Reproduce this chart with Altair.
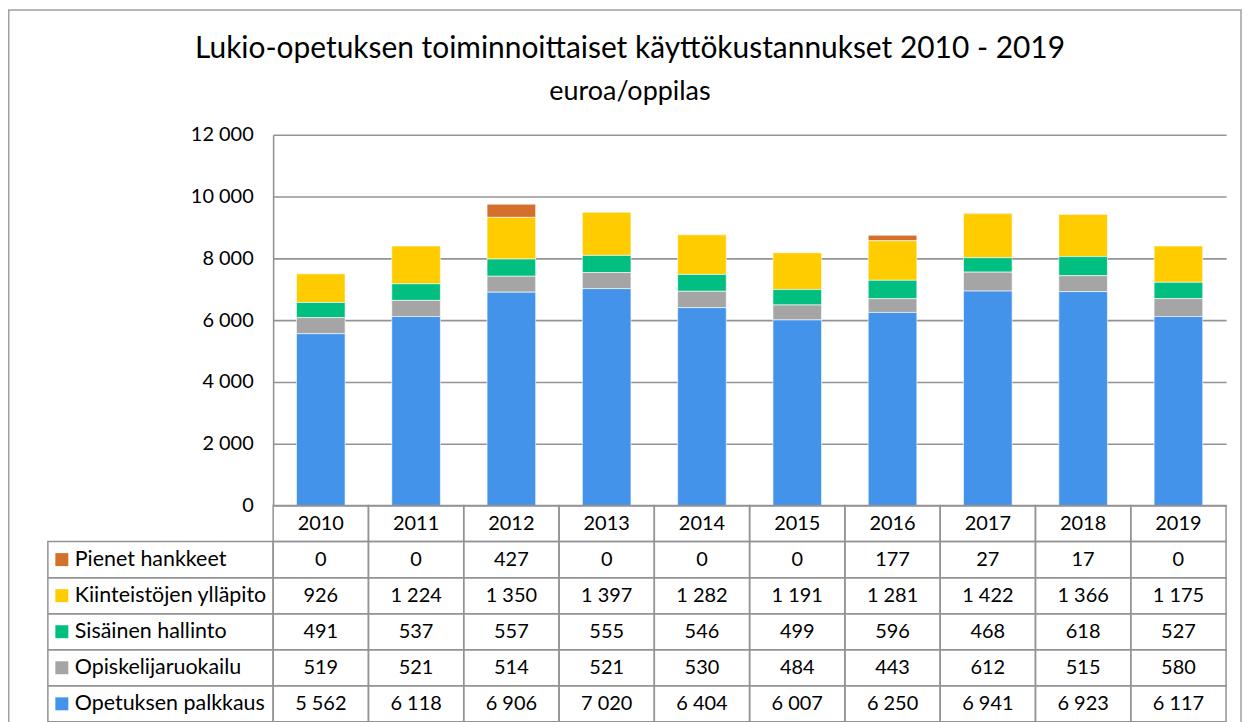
import altair as alt
import pandas as pd

# ---- data ----
years = ["2010", "2011", "2012", "2013", "2014", "2015", "2016", "2017", "2018", "2019"]
series = ["Pienet hankkeet", "Kiinteistöjen ylläpito", "Sisäinen hallinto",
          "Opiskelijaruokailu", "Opetuksen palkkaus"]
colors = ["#D3702C", "#FFCC00", "#00BF80", "#A5A5A5", "#4493EB"]
pienet = [0, 0, 427, 0, 0, 0, 177, 27, 17, 0]
kiinteistot = [926, 1224, 1350, 1397, 1282, 1191, 1281, 1422, 1366, 1175]
sisainen = [491, 537, 557, 555, 546, 499, 596, 468, 618, 527]
ruokailu = [519, 521, 514, 521, 530, 484, 443, 612, 515, 580]
palkkaus = [5562, 6118, 6906, 7020, 6404, 6007, 6250, 6941, 6923, 6117]
title_lines = ["Lukio-opetuksen toiminnoittaiset käyttökustannukset 2010 - 2019",
               "euroa/oppilas"]
y_ticks = [0, 2000, 4000, 6000, 8000, 10000, 12000]

FONT = "Lato"
GRID = "#939393"
BORDER = "#a0a0a0"
FS = 20

values_by_series = [pienet, kiinteistot, sisainen, ruokailu, palkkaus]


def fmt(v):
    return f"{v:,}".replace(",", " ")


recs = []
for si, (name, vals) in enumerate(zip(series, values_by_series)):
    for yr, v in zip(years, vals):
        recs.append({"year": yr, "series": name, "value": v, "label": fmt(v),
                     "stack": len(series) - 1 - si})
df = pd.DataFrame(recs)

color_scale = alt.Scale(domain=series, range=colors)
rows_domain = ["hdr"] + series

# ---- bar chart ----
bars = alt.Chart(df).transform_filter("datum.value > 0").mark_bar(
    stroke="white", strokeWidth=1, strokeOpacity=0.6
).encode(
    x=alt.X("year:N", scale=alt.Scale(domain=years, paddingInner=0.49, paddingOuter=0.245), axis=None),
    y=alt.Y("value:Q", stack="zero",
            scale=alt.Scale(domain=[0, 12000], nice=False),
            axis=alt.Axis(values=y_ticks, title=None, grid=True, gridColor=GRID, gridWidth=1.6,
                          domain=True, domainColor=GRID, domainWidth=1.6, ticks=False,
                          labelFont=FONT, labelFontSize=FS, labelColor="black", labelPadding=20,
                          labelExpr="replace(format(datum.value, ','), ',', ' ')")),
    color=alt.Color("series:N", scale=color_scale, legend=None),
    order=alt.Order("stack:Q", sort="ascending"),
)

t1 = alt.Chart(pd.DataFrame({"t": [title_lines[0]]})).mark_text(
    font=FONT, fontSize=30, color="black", align="center", baseline="alphabetic"
).encode(text="t:N", x=alt.value(358), y=alt.value(-77))
t2 = alt.Chart(pd.DataFrame({"t": [title_lines[1]]})).mark_text(
    font=FONT, fontSize=27, color="black", align="center", baseline="alphabetic"
).encode(text="t:N", x=alt.value(358), y=alt.value(-35))

bar_panel = alt.layer(bars, t1, t2).properties(width=956, height=372)

# ---- spacer with outer border ----
spacer = alt.Chart(pd.DataFrame({"a": [0]})).mark_rect(
    fillOpacity=0, stroke=BORDER, strokeWidth=1.5
).encode(
    x=alt.value(-39.25), x2=alt.value(1197), y=alt.value(-125.25), y2=alt.value(590)
).properties(width=226, height=372)

# ---- legend column of table ----
leg_df = pd.DataFrame({"series": series})
row_y = alt.Y("series:N", scale=alt.Scale(domain=rows_domain, paddingInner=0, paddingOuter=0), axis=None)
leg_cells = alt.Chart(leg_df).mark_rect(fillOpacity=0, stroke=GRID, strokeWidth=1.5).encode(
    y=row_y, x=alt.value(0), x2=alt.value(226))
leg_sw = alt.Chart(leg_df).mark_square(size=169, opacity=1).encode(
    y=row_y, x=alt.value(14), color=alt.Color("series:N", scale=color_scale, legend=None))
leg_txt = alt.Chart(leg_df).mark_text(align="left", font=FONT, fontSize=21.5, color="black").encode(
    y=row_y, x=alt.value(27), text="series:N")
legend_panel = alt.layer(leg_cells, leg_sw, leg_txt).properties(width=226, height=217)

# ---- values grid of table ----
cell_recs = [{"year": yr, "row": "hdr", "label": yr} for yr in years]
for name, vals in zip(series, values_by_series):
    for yr, v in zip(years, vals):
        cell_recs.append({"year": yr, "row": name, "label": fmt(v)})
cells_df = pd.DataFrame(cell_recs)
cx = alt.X("year:N", scale=alt.Scale(domain=years, paddingInner=0, paddingOuter=0), axis=None)
cy = alt.Y("row:N", scale=alt.Scale(domain=rows_domain, paddingInner=0, paddingOuter=0), axis=None)
val_cells = alt.Chart(cells_df).mark_rect(fillOpacity=0, stroke=GRID, strokeWidth=1.5).encode(x=cx, y=cy)
val_txt = alt.Chart(cells_df).mark_text(font=FONT, fontSize=FS, color="black").encode(
    x=cx, y=cy, text="label:N")
values_panel = alt.layer(val_cells, val_txt).properties(width=956, height=217)

chart = alt.concat(spacer, bar_panel, legend_panel, values_panel,
                   columns=2, spacing=0, bounds="flush").properties(padding=0).configure_view(strokeWidth=0)

chart.save("out.html", embed_options={"renderer": "svg", "actions": False})
